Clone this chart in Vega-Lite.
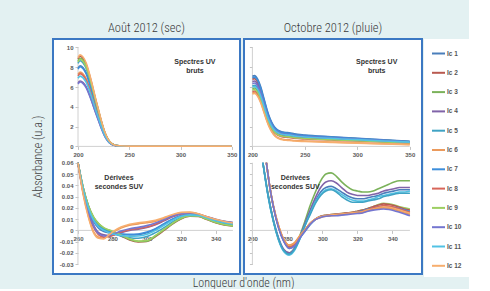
{
"$schema": "https://vega.github.io/schema/vega-lite/v6.json",
"background": "#e3f1f2",
"padding": {"left": 30, "top": 20, "right": 0, "bottom": 0},
"title": {"text": "Longueur d'onde (nm)", "orient": "bottom", "anchor": "middle", "offset": 1, "dx": -6, "fontSize": 12},
"datasets": {
"aTop": [
{"s":"Ic 1","x":200,"y":7.91},{"s":"Ic 1","x":202,"y":8.15},{"s":"Ic 1","x":205,"y":7.95},{"s":"Ic 1","x":208,"y":7.42},{"s":"Ic 1","x":211,"y":6.52},{"s":"Ic 1","x":214,"y":5.46},{"s":"Ic 1","x":217,"y":4.32},{"s":"Ic 1","x":220,"y":3.26},{"s":"Ic 1","x":223,"y":2.2},{"s":"Ic 1","x":226,"y":1.3},{"s":"Ic 1","x":229,"y":0.69},{"s":"Ic 1","x":232,"y":0.33},{"s":"Ic 1","x":235,"y":0.15},{"s":"Ic 1","x":240,"y":0.05},{"s":"Ic 1","x":250,"y":0.03},{"s":"Ic 1","x":350,"y":0.03},
{"s":"Ic 2","x":200,"y":8.83},{"s":"Ic 2","x":202,"y":9.1},{"s":"Ic 2","x":205,"y":8.87},{"s":"Ic 2","x":208,"y":8.28},{"s":"Ic 2","x":211,"y":7.28},{"s":"Ic 2","x":214,"y":6.1},{"s":"Ic 2","x":217,"y":4.82},{"s":"Ic 2","x":220,"y":3.64},{"s":"Ic 2","x":223,"y":2.46},{"s":"Ic 2","x":226,"y":1.46},{"s":"Ic 2","x":229,"y":0.77},{"s":"Ic 2","x":232,"y":0.36},{"s":"Ic 2","x":235,"y":0.16},{"s":"Ic 2","x":240,"y":0.05},{"s":"Ic 2","x":250,"y":0.03},{"s":"Ic 2","x":350,"y":0.03},
{"s":"Ic 3","x":200,"y":8.63},{"s":"Ic 3","x":202,"y":8.9},{"s":"Ic 3","x":205,"y":8.68},{"s":"Ic 3","x":208,"y":8.1},{"s":"Ic 3","x":211,"y":7.12},{"s":"Ic 3","x":214,"y":5.96},{"s":"Ic 3","x":217,"y":4.72},{"s":"Ic 3","x":220,"y":3.56},{"s":"Ic 3","x":223,"y":2.4},{"s":"Ic 3","x":226,"y":1.42},{"s":"Ic 3","x":229,"y":0.76},{"s":"Ic 3","x":232,"y":0.36},{"s":"Ic 3","x":235,"y":0.16},{"s":"Ic 3","x":240,"y":0.05},{"s":"Ic 3","x":250,"y":0.03},{"s":"Ic 3","x":350,"y":0.03},
{"s":"Ic 4","x":200,"y":6.4},{"s":"Ic 4","x":202,"y":6.6},{"s":"Ic 4","x":205,"y":6.44},{"s":"Ic 4","x":208,"y":6.01},{"s":"Ic 4","x":211,"y":5.28},{"s":"Ic 4","x":214,"y":4.42},{"s":"Ic 4","x":217,"y":3.5},{"s":"Ic 4","x":220,"y":2.64},{"s":"Ic 4","x":223,"y":1.78},{"s":"Ic 4","x":226,"y":1.06},{"s":"Ic 4","x":229,"y":0.56},{"s":"Ic 4","x":232,"y":0.26},{"s":"Ic 4","x":235,"y":0.12},{"s":"Ic 4","x":240,"y":0.04},{"s":"Ic 4","x":250,"y":0.03},{"s":"Ic 4","x":350,"y":0.03},
{"s":"Ic 5","x":200,"y":8.39},{"s":"Ic 5","x":202,"y":8.65},{"s":"Ic 5","x":205,"y":8.43},{"s":"Ic 5","x":208,"y":7.87},{"s":"Ic 5","x":211,"y":6.92},{"s":"Ic 5","x":214,"y":5.8},{"s":"Ic 5","x":217,"y":4.58},{"s":"Ic 5","x":220,"y":3.46},{"s":"Ic 5","x":223,"y":2.34},{"s":"Ic 5","x":226,"y":1.38},{"s":"Ic 5","x":229,"y":0.74},{"s":"Ic 5","x":232,"y":0.35},{"s":"Ic 5","x":235,"y":0.16},{"s":"Ic 5","x":240,"y":0.05},{"s":"Ic 5","x":250,"y":0.03},{"s":"Ic 5","x":350,"y":0.03},
{"s":"Ic 6","x":200,"y":7.28},{"s":"Ic 6","x":202,"y":7.5},{"s":"Ic 6","x":205,"y":7.31},{"s":"Ic 6","x":208,"y":6.83},{"s":"Ic 6","x":211,"y":6.0},{"s":"Ic 6","x":214,"y":5.03},{"s":"Ic 6","x":217,"y":3.98},{"s":"Ic 6","x":220,"y":3.0},{"s":"Ic 6","x":223,"y":2.03},{"s":"Ic 6","x":226,"y":1.2},{"s":"Ic 6","x":229,"y":0.64},{"s":"Ic 6","x":232,"y":0.3},{"s":"Ic 6","x":235,"y":0.14},{"s":"Ic 6","x":240,"y":0.05},{"s":"Ic 6","x":250,"y":0.03},{"s":"Ic 6","x":350,"y":0.03},
{"s":"Ic 7","x":200,"y":7.81},{"s":"Ic 7","x":202,"y":8.05},{"s":"Ic 7","x":205,"y":7.85},{"s":"Ic 7","x":208,"y":7.33},{"s":"Ic 7","x":211,"y":6.44},{"s":"Ic 7","x":214,"y":5.39},{"s":"Ic 7","x":217,"y":4.27},{"s":"Ic 7","x":220,"y":3.22},{"s":"Ic 7","x":223,"y":2.17},{"s":"Ic 7","x":226,"y":1.29},{"s":"Ic 7","x":229,"y":0.68},{"s":"Ic 7","x":232,"y":0.32},{"s":"Ic 7","x":235,"y":0.14},{"s":"Ic 7","x":240,"y":0.05},{"s":"Ic 7","x":250,"y":0.03},{"s":"Ic 7","x":350,"y":0.03},
{"s":"Ic 8","x":200,"y":7.13},{"s":"Ic 8","x":202,"y":7.35},{"s":"Ic 8","x":205,"y":7.17},{"s":"Ic 8","x":208,"y":6.69},{"s":"Ic 8","x":211,"y":5.88},{"s":"Ic 8","x":214,"y":4.92},{"s":"Ic 8","x":217,"y":3.9},{"s":"Ic 8","x":220,"y":2.94},{"s":"Ic 8","x":223,"y":1.98},{"s":"Ic 8","x":226,"y":1.18},{"s":"Ic 8","x":229,"y":0.62},{"s":"Ic 8","x":232,"y":0.29},{"s":"Ic 8","x":235,"y":0.13},{"s":"Ic 8","x":240,"y":0.04},{"s":"Ic 8","x":250,"y":0.03},{"s":"Ic 8","x":350,"y":0.03},
{"s":"Ic 9","x":200,"y":8.54},{"s":"Ic 9","x":202,"y":8.8},{"s":"Ic 9","x":205,"y":8.58},{"s":"Ic 9","x":208,"y":8.01},{"s":"Ic 9","x":211,"y":7.04},{"s":"Ic 9","x":214,"y":5.9},{"s":"Ic 9","x":217,"y":4.66},{"s":"Ic 9","x":220,"y":3.52},{"s":"Ic 9","x":223,"y":2.38},{"s":"Ic 9","x":226,"y":1.41},{"s":"Ic 9","x":229,"y":0.75},{"s":"Ic 9","x":232,"y":0.35},{"s":"Ic 9","x":235,"y":0.16},{"s":"Ic 9","x":240,"y":0.05},{"s":"Ic 9","x":250,"y":0.03},{"s":"Ic 9","x":350,"y":0.03},
{"s":"Ic 10","x":200,"y":6.31},{"s":"Ic 10","x":202,"y":6.5},{"s":"Ic 10","x":205,"y":6.34},{"s":"Ic 10","x":208,"y":5.92},{"s":"Ic 10","x":211,"y":5.2},{"s":"Ic 10","x":214,"y":4.36},{"s":"Ic 10","x":217,"y":3.45},{"s":"Ic 10","x":220,"y":2.6},{"s":"Ic 10","x":223,"y":1.76},{"s":"Ic 10","x":226,"y":1.04},{"s":"Ic 10","x":229,"y":0.55},{"s":"Ic 10","x":232,"y":0.26},{"s":"Ic 10","x":235,"y":0.12},{"s":"Ic 10","x":240,"y":0.04},{"s":"Ic 10","x":250,"y":0.03},{"s":"Ic 10","x":350,"y":0.03},
{"s":"Ic 11","x":200,"y":6.89},{"s":"Ic 11","x":202,"y":7.1},{"s":"Ic 11","x":205,"y":6.92},{"s":"Ic 11","x":208,"y":6.46},{"s":"Ic 11","x":211,"y":5.68},{"s":"Ic 11","x":214,"y":4.76},{"s":"Ic 11","x":217,"y":3.76},{"s":"Ic 11","x":220,"y":2.84},{"s":"Ic 11","x":223,"y":1.92},{"s":"Ic 11","x":226,"y":1.14},{"s":"Ic 11","x":229,"y":0.6},{"s":"Ic 11","x":232,"y":0.28},{"s":"Ic 11","x":235,"y":0.13},{"s":"Ic 11","x":240,"y":0.04},{"s":"Ic 11","x":250,"y":0.03},{"s":"Ic 11","x":350,"y":0.03},
{"s":"Ic 12","x":200,"y":8.97},{"s":"Ic 12","x":202,"y":9.25},{"s":"Ic 12","x":205,"y":9.02},{"s":"Ic 12","x":208,"y":8.42},{"s":"Ic 12","x":211,"y":7.4},{"s":"Ic 12","x":214,"y":6.2},{"s":"Ic 12","x":217,"y":4.9},{"s":"Ic 12","x":220,"y":3.7},{"s":"Ic 12","x":223,"y":2.5},{"s":"Ic 12","x":226,"y":1.48},{"s":"Ic 12","x":229,"y":0.79},{"s":"Ic 12","x":232,"y":0.37},{"s":"Ic 12","x":235,"y":0.17},{"s":"Ic 12","x":240,"y":0.06},{"s":"Ic 12","x":250,"y":0.03},{"s":"Ic 12","x":350,"y":0.03}
],
"oTop": [
{"s":"Ic 1","x":200,"y":7.09},{"s":"Ic 1","x":202,"y":7.15},{"s":"Ic 1","x":205,"y":6.8},{"s":"Ic 1","x":208,"y":6.0},{"s":"Ic 1","x":211,"y":4.84},{"s":"Ic 1","x":214,"y":3.69},{"s":"Ic 1","x":217,"y":2.76},{"s":"Ic 1","x":220,"y":2.13},{"s":"Ic 1","x":223,"y":1.76},{"s":"Ic 1","x":226,"y":1.55},{"s":"Ic 1","x":229,"y":1.45},{"s":"Ic 1","x":232,"y":1.4},{"s":"Ic 1","x":235,"y":1.38},{"s":"Ic 1","x":240,"y":1.27},{"s":"Ic 1","x":250,"y":1.15},{"s":"Ic 1","x":275,"y":0.98},{"s":"Ic 1","x":300,"y":0.83},{"s":"Ic 1","x":325,"y":0.67},{"s":"Ic 1","x":350,"y":0.52},
{"s":"Ic 2","x":200,"y":6.79},{"s":"Ic 2","x":202,"y":6.85},{"s":"Ic 2","x":205,"y":6.5},{"s":"Ic 2","x":208,"y":5.68},{"s":"Ic 2","x":211,"y":4.52},{"s":"Ic 2","x":214,"y":3.35},{"s":"Ic 2","x":217,"y":2.42},{"s":"Ic 2","x":220,"y":1.78},{"s":"Ic 2","x":223,"y":1.4},{"s":"Ic 2","x":226,"y":1.19},{"s":"Ic 2","x":229,"y":1.09},{"s":"Ic 2","x":232,"y":1.04},{"s":"Ic 2","x":235,"y":1.02},{"s":"Ic 2","x":240,"y":0.94},{"s":"Ic 2","x":250,"y":0.85},{"s":"Ic 2","x":275,"y":0.72},{"s":"Ic 2","x":300,"y":0.61},{"s":"Ic 2","x":325,"y":0.49},{"s":"Ic 2","x":350,"y":0.38},
{"s":"Ic 3","x":200,"y":5.85},{"s":"Ic 3","x":202,"y":5.9},{"s":"Ic 3","x":205,"y":5.62},{"s":"Ic 3","x":208,"y":4.97},{"s":"Ic 3","x":211,"y":4.04},{"s":"Ic 3","x":214,"y":3.12},{"s":"Ic 3","x":217,"y":2.37},{"s":"Ic 3","x":220,"y":1.86},{"s":"Ic 3","x":223,"y":1.56},{"s":"Ic 3","x":226,"y":1.4},{"s":"Ic 3","x":229,"y":1.32},{"s":"Ic 3","x":232,"y":1.28},{"s":"Ic 3","x":235,"y":1.26},{"s":"Ic 3","x":240,"y":1.16},{"s":"Ic 3","x":250,"y":1.05},{"s":"Ic 3","x":275,"y":0.89},{"s":"Ic 3","x":300,"y":0.76},{"s":"Ic 3","x":325,"y":0.61},{"s":"Ic 3","x":350,"y":0.47},
{"s":"Ic 4","x":200,"y":6.55},{"s":"Ic 4","x":202,"y":6.6},{"s":"Ic 4","x":205,"y":6.28},{"s":"Ic 4","x":208,"y":5.53},{"s":"Ic 4","x":211,"y":4.46},{"s":"Ic 4","x":214,"y":3.4},{"s":"Ic 4","x":217,"y":2.54},{"s":"Ic 4","x":220,"y":1.95},{"s":"Ic 4","x":223,"y":1.61},{"s":"Ic 4","x":226,"y":1.42},{"s":"Ic 4","x":229,"y":1.32},{"s":"Ic 4","x":232,"y":1.28},{"s":"Ic 4","x":235,"y":1.26},{"s":"Ic 4","x":240,"y":1.16},{"s":"Ic 4","x":250,"y":1.05},{"s":"Ic 4","x":275,"y":0.89},{"s":"Ic 4","x":300,"y":0.76},{"s":"Ic 4","x":325,"y":0.61},{"s":"Ic 4","x":350,"y":0.47},
{"s":"Ic 5","x":200,"y":6.13},{"s":"Ic 5","x":202,"y":6.18},{"s":"Ic 5","x":205,"y":5.88},{"s":"Ic 5","x":208,"y":5.18},{"s":"Ic 5","x":211,"y":4.18},{"s":"Ic 5","x":214,"y":3.18},{"s":"Ic 5","x":217,"y":2.38},{"s":"Ic 5","x":220,"y":1.83},{"s":"Ic 5","x":223,"y":1.51},{"s":"Ic 5","x":226,"y":1.33},{"s":"Ic 5","x":229,"y":1.24},{"s":"Ic 5","x":232,"y":1.2},{"s":"Ic 5","x":235,"y":1.18},{"s":"Ic 5","x":240,"y":1.08},{"s":"Ic 5","x":250,"y":0.98},{"s":"Ic 5","x":275,"y":0.83},{"s":"Ic 5","x":300,"y":0.7},{"s":"Ic 5","x":325,"y":0.56},{"s":"Ic 5","x":350,"y":0.43},
{"s":"Ic 6","x":200,"y":5.4},{"s":"Ic 6","x":202,"y":5.45},{"s":"Ic 6","x":205,"y":5.16},{"s":"Ic 6","x":208,"y":4.49},{"s":"Ic 6","x":211,"y":3.53},{"s":"Ic 6","x":214,"y":2.58},{"s":"Ic 6","x":217,"y":1.81},{"s":"Ic 6","x":220,"y":1.28},{"s":"Ic 6","x":223,"y":0.97},{"s":"Ic 6","x":226,"y":0.8},{"s":"Ic 6","x":229,"y":0.72},{"s":"Ic 6","x":232,"y":0.68},{"s":"Ic 6","x":235,"y":0.66},{"s":"Ic 6","x":240,"y":0.6},{"s":"Ic 6","x":250,"y":0.55},{"s":"Ic 6","x":275,"y":0.45},{"s":"Ic 6","x":300,"y":0.36},{"s":"Ic 6","x":325,"y":0.27},{"s":"Ic 6","x":350,"y":0.2},
{"s":"Ic 7","x":200,"y":6.94},{"s":"Ic 7","x":202,"y":7.0},{"s":"Ic 7","x":205,"y":6.66},{"s":"Ic 7","x":208,"y":5.86},{"s":"Ic 7","x":211,"y":4.73},{"s":"Ic 7","x":214,"y":3.59},{"s":"Ic 7","x":217,"y":2.68},{"s":"Ic 7","x":220,"y":2.06},{"s":"Ic 7","x":223,"y":1.69},{"s":"Ic 7","x":226,"y":1.49},{"s":"Ic 7","x":229,"y":1.39},{"s":"Ic 7","x":232,"y":1.34},{"s":"Ic 7","x":235,"y":1.32},{"s":"Ic 7","x":240,"y":1.21},{"s":"Ic 7","x":250,"y":1.1},{"s":"Ic 7","x":275,"y":0.94},{"s":"Ic 7","x":300,"y":0.79},{"s":"Ic 7","x":325,"y":0.64},{"s":"Ic 7","x":350,"y":0.5},
{"s":"Ic 8","x":200,"y":5.55},{"s":"Ic 8","x":202,"y":5.6},{"s":"Ic 8","x":205,"y":5.32},{"s":"Ic 8","x":208,"y":4.66},{"s":"Ic 8","x":211,"y":3.72},{"s":"Ic 8","x":214,"y":2.78},{"s":"Ic 8","x":217,"y":2.03},{"s":"Ic 8","x":220,"y":1.51},{"s":"Ic 8","x":223,"y":1.21},{"s":"Ic 8","x":226,"y":1.04},{"s":"Ic 8","x":229,"y":0.96},{"s":"Ic 8","x":232,"y":0.92},{"s":"Ic 8","x":235,"y":0.9},{"s":"Ic 8","x":240,"y":0.83},{"s":"Ic 8","x":250,"y":0.75},{"s":"Ic 8","x":275,"y":0.64},{"s":"Ic 8","x":300,"y":0.54},{"s":"Ic 8","x":325,"y":0.44},{"s":"Ic 8","x":350,"y":0.34},
{"s":"Ic 9","x":200,"y":5.7},{"s":"Ic 9","x":202,"y":5.75},{"s":"Ic 9","x":205,"y":5.46},{"s":"Ic 9","x":208,"y":4.79},{"s":"Ic 9","x":211,"y":3.83},{"s":"Ic 9","x":214,"y":2.88},{"s":"Ic 9","x":217,"y":2.11},{"s":"Ic 9","x":220,"y":1.58},{"s":"Ic 9","x":223,"y":1.27},{"s":"Ic 9","x":226,"y":1.1},{"s":"Ic 9","x":229,"y":1.02},{"s":"Ic 9","x":232,"y":0.98},{"s":"Ic 9","x":235,"y":0.96},{"s":"Ic 9","x":240,"y":0.88},{"s":"Ic 9","x":250,"y":0.8},{"s":"Ic 9","x":275,"y":0.68},{"s":"Ic 9","x":300,"y":0.58},{"s":"Ic 9","x":325,"y":0.46},{"s":"Ic 9","x":350,"y":0.36},
{"s":"Ic 10","x":200,"y":6.35},{"s":"Ic 10","x":202,"y":6.4},{"s":"Ic 10","x":205,"y":6.09},{"s":"Ic 10","x":208,"y":5.36},{"s":"Ic 10","x":211,"y":4.32},{"s":"Ic 10","x":214,"y":3.28},{"s":"Ic 10","x":217,"y":2.45},{"s":"Ic 10","x":220,"y":1.88},{"s":"Ic 10","x":223,"y":1.54},{"s":"Ic 10","x":226,"y":1.36},{"s":"Ic 10","x":229,"y":1.26},{"s":"Ic 10","x":232,"y":1.22},{"s":"Ic 10","x":235,"y":1.2},{"s":"Ic 10","x":240,"y":1.1},{"s":"Ic 10","x":250,"y":1.0},{"s":"Ic 10","x":275,"y":0.85},{"s":"Ic 10","x":300,"y":0.72},{"s":"Ic 10","x":325,"y":0.58},{"s":"Ic 10","x":350,"y":0.45},
{"s":"Ic 11","x":200,"y":6.0},{"s":"Ic 11","x":202,"y":6.05},{"s":"Ic 11","x":205,"y":5.76},{"s":"Ic 11","x":208,"y":5.07},{"s":"Ic 11","x":211,"y":4.09},{"s":"Ic 11","x":214,"y":3.1},{"s":"Ic 11","x":217,"y":2.32},{"s":"Ic 11","x":220,"y":1.78},{"s":"Ic 11","x":223,"y":1.46},{"s":"Ic 11","x":226,"y":1.29},{"s":"Ic 11","x":229,"y":1.2},{"s":"Ic 11","x":232,"y":1.16},{"s":"Ic 11","x":235,"y":1.14},{"s":"Ic 11","x":240,"y":1.05},{"s":"Ic 11","x":250,"y":0.95},{"s":"Ic 11","x":275,"y":0.81},{"s":"Ic 11","x":300,"y":0.68},{"s":"Ic 11","x":325,"y":0.55},{"s":"Ic 11","x":350,"y":0.43},
{"s":"Ic 12","x":200,"y":5.3},{"s":"Ic 12","x":202,"y":5.35},{"s":"Ic 12","x":205,"y":5.07},{"s":"Ic 12","x":208,"y":4.4},{"s":"Ic 12","x":211,"y":3.45},{"s":"Ic 12","x":214,"y":2.5},{"s":"Ic 12","x":217,"y":1.74},{"s":"Ic 12","x":220,"y":1.22},{"s":"Ic 12","x":223,"y":0.91},{"s":"Ic 12","x":226,"y":0.74},{"s":"Ic 12","x":229,"y":0.66},{"s":"Ic 12","x":232,"y":0.62},{"s":"Ic 12","x":235,"y":0.6},{"s":"Ic 12","x":240,"y":0.55},{"s":"Ic 12","x":250,"y":0.5},{"s":"Ic 12","x":275,"y":0.41},{"s":"Ic 12","x":300,"y":0.33},{"s":"Ic 12","x":325,"y":0.25},{"s":"Ic 12","x":350,"y":0.18}
],
"aBot": [
{"s":"Ic 1","x":260,"y":0.06},{"s":"Ic 1","x":263,"y":0.036},{"s":"Ic 1","x":266,"y":0.019},{"s":"Ic 1","x":269,"y":0.008},{"s":"Ic 1","x":272,"y":0.002},{"s":"Ic 1","x":275,"y":-0.001},{"s":"Ic 1","x":278,"y":-0.002},{"s":"Ic 1","x":281,"y":-0.003},{"s":"Ic 1","x":285,"y":-0.0035},{"s":"Ic 1","x":290,"y":-0.004},{"s":"Ic 1","x":295,"y":-0.0038},{"s":"Ic 1","x":300,"y":-0.0022},{"s":"Ic 1","x":305,"y":0.001},{"s":"Ic 1","x":310,"y":0.0055},{"s":"Ic 1","x":315,"y":0.0098},{"s":"Ic 1","x":320,"y":0.013},{"s":"Ic 1","x":325,"y":0.014},{"s":"Ic 1","x":330,"y":0.0135},{"s":"Ic 1","x":335,"y":0.0112},{"s":"Ic 1","x":340,"y":0.0088},{"s":"Ic 1","x":345,"y":0.007},{"s":"Ic 1","x":350,"y":0.0058},
{"s":"Ic 2","x":260,"y":0.06},{"s":"Ic 2","x":263,"y":0.038},{"s":"Ic 2","x":266,"y":0.022},{"s":"Ic 2","x":269,"y":0.011},{"s":"Ic 2","x":272,"y":0.005},{"s":"Ic 2","x":275,"y":0.0015},{"s":"Ic 2","x":278,"y":-0.0005},{"s":"Ic 2","x":281,"y":-0.0025},{"s":"Ic 2","x":285,"y":-0.005},{"s":"Ic 2","x":290,"y":-0.0085},{"s":"Ic 2","x":295,"y":-0.0102},{"s":"Ic 2","x":300,"y":-0.0098},{"s":"Ic 2","x":305,"y":-0.0055},{"s":"Ic 2","x":310,"y":0.0},{"s":"Ic 2","x":315,"y":0.0058},{"s":"Ic 2","x":320,"y":0.0103},{"s":"Ic 2","x":325,"y":0.0126},{"s":"Ic 2","x":330,"y":0.0123},{"s":"Ic 2","x":335,"y":0.0096},{"s":"Ic 2","x":340,"y":0.0068},{"s":"Ic 2","x":345,"y":0.0049},{"s":"Ic 2","x":350,"y":0.0039},
{"s":"Ic 3","x":260,"y":0.06},{"s":"Ic 3","x":263,"y":0.038},{"s":"Ic 3","x":266,"y":0.022},{"s":"Ic 3","x":269,"y":0.012},{"s":"Ic 3","x":272,"y":0.006},{"s":"Ic 3","x":275,"y":0.002},{"s":"Ic 3","x":278,"y":0.0},{"s":"Ic 3","x":281,"y":-0.002},{"s":"Ic 3","x":285,"y":-0.0045},{"s":"Ic 3","x":290,"y":-0.008},{"s":"Ic 3","x":295,"y":-0.0098},{"s":"Ic 3","x":300,"y":-0.0095},{"s":"Ic 3","x":305,"y":-0.005},{"s":"Ic 3","x":310,"y":0.0005},{"s":"Ic 3","x":315,"y":0.006},{"s":"Ic 3","x":320,"y":0.0105},{"s":"Ic 3","x":325,"y":0.0128},{"s":"Ic 3","x":330,"y":0.0125},{"s":"Ic 3","x":335,"y":0.0098},{"s":"Ic 3","x":340,"y":0.007},{"s":"Ic 3","x":345,"y":0.005},{"s":"Ic 3","x":350,"y":0.004},
{"s":"Ic 4","x":260,"y":0.06},{"s":"Ic 4","x":263,"y":0.035},{"s":"Ic 4","x":266,"y":0.017},{"s":"Ic 4","x":269,"y":0.005},{"s":"Ic 4","x":272,"y":-0.002},{"s":"Ic 4","x":275,"y":-0.004},{"s":"Ic 4","x":278,"y":-0.0045},{"s":"Ic 4","x":281,"y":-0.004},{"s":"Ic 4","x":285,"y":-0.002},{"s":"Ic 4","x":290,"y":0.0},{"s":"Ic 4","x":295,"y":0.001},{"s":"Ic 4","x":300,"y":0.0025},{"s":"Ic 4","x":305,"y":0.005},{"s":"Ic 4","x":310,"y":0.0085},{"s":"Ic 4","x":315,"y":0.012},{"s":"Ic 4","x":320,"y":0.0145},{"s":"Ic 4","x":325,"y":0.015},{"s":"Ic 4","x":330,"y":0.014},{"s":"Ic 4","x":335,"y":0.0118},{"s":"Ic 4","x":340,"y":0.0095},{"s":"Ic 4","x":345,"y":0.0078},{"s":"Ic 4","x":350,"y":0.0068},
{"s":"Ic 5","x":260,"y":0.06},{"s":"Ic 5","x":263,"y":0.037},{"s":"Ic 5","x":266,"y":0.021},{"s":"Ic 5","x":269,"y":0.01},{"s":"Ic 5","x":272,"y":0.004},{"s":"Ic 5","x":275,"y":0.001},{"s":"Ic 5","x":278,"y":-0.001},{"s":"Ic 5","x":281,"y":-0.003},{"s":"Ic 5","x":285,"y":-0.005},{"s":"Ic 5","x":290,"y":-0.0065},{"s":"Ic 5","x":295,"y":-0.007},{"s":"Ic 5","x":300,"y":-0.0055},{"s":"Ic 5","x":305,"y":-0.002},{"s":"Ic 5","x":310,"y":0.0025},{"s":"Ic 5","x":315,"y":0.0075},{"s":"Ic 5","x":320,"y":0.0115},{"s":"Ic 5","x":325,"y":0.0132},{"s":"Ic 5","x":330,"y":0.013},{"s":"Ic 5","x":335,"y":0.0108},{"s":"Ic 5","x":340,"y":0.0082},{"s":"Ic 5","x":345,"y":0.0062},{"s":"Ic 5","x":350,"y":0.005},
{"s":"Ic 6","x":260,"y":0.06},{"s":"Ic 6","x":263,"y":0.033},{"s":"Ic 6","x":266,"y":0.013},{"s":"Ic 6","x":269,"y":-0.001},{"s":"Ic 6","x":272,"y":-0.006},{"s":"Ic 6","x":275,"y":-0.007},{"s":"Ic 6","x":278,"y":-0.004},{"s":"Ic 6","x":281,"y":-0.001},{"s":"Ic 6","x":285,"y":0.002},{"s":"Ic 6","x":290,"y":0.0045},{"s":"Ic 6","x":295,"y":0.0058},{"s":"Ic 6","x":300,"y":0.0068},{"s":"Ic 6","x":305,"y":0.0082},{"s":"Ic 6","x":310,"y":0.0108},{"s":"Ic 6","x":315,"y":0.0135},{"s":"Ic 6","x":320,"y":0.0155},{"s":"Ic 6","x":325,"y":0.0158},{"s":"Ic 6","x":330,"y":0.0145},{"s":"Ic 6","x":335,"y":0.0118},{"s":"Ic 6","x":340,"y":0.0095},{"s":"Ic 6","x":345,"y":0.0075},{"s":"Ic 6","x":350,"y":0.006},
{"s":"Ic 7","x":260,"y":0.06},{"s":"Ic 7","x":263,"y":0.036},{"s":"Ic 7","x":266,"y":0.02},{"s":"Ic 7","x":269,"y":0.009},{"s":"Ic 7","x":272,"y":0.003},{"s":"Ic 7","x":275,"y":0.0},{"s":"Ic 7","x":278,"y":-0.0015},{"s":"Ic 7","x":281,"y":-0.0025},{"s":"Ic 7","x":285,"y":-0.0032},{"s":"Ic 7","x":290,"y":-0.0035},{"s":"Ic 7","x":295,"y":-0.0032},{"s":"Ic 7","x":300,"y":-0.0015},{"s":"Ic 7","x":305,"y":0.0015},{"s":"Ic 7","x":310,"y":0.006},{"s":"Ic 7","x":315,"y":0.0102},{"s":"Ic 7","x":320,"y":0.0132},{"s":"Ic 7","x":325,"y":0.0142},{"s":"Ic 7","x":330,"y":0.0136},{"s":"Ic 7","x":335,"y":0.0113},{"s":"Ic 7","x":340,"y":0.009},{"s":"Ic 7","x":345,"y":0.0072},{"s":"Ic 7","x":350,"y":0.006},
{"s":"Ic 8","x":260,"y":0.06},{"s":"Ic 8","x":263,"y":0.034},{"s":"Ic 8","x":266,"y":0.015},{"s":"Ic 8","x":269,"y":0.003},{"s":"Ic 8","x":272,"y":-0.004},{"s":"Ic 8","x":275,"y":-0.006},{"s":"Ic 8","x":278,"y":-0.0055},{"s":"Ic 8","x":281,"y":-0.004},{"s":"Ic 8","x":285,"y":-0.0015},{"s":"Ic 8","x":290,"y":0.0005},{"s":"Ic 8","x":295,"y":0.0018},{"s":"Ic 8","x":300,"y":0.003},{"s":"Ic 8","x":305,"y":0.0055},{"s":"Ic 8","x":310,"y":0.009},{"s":"Ic 8","x":315,"y":0.0125},{"s":"Ic 8","x":320,"y":0.0148},{"s":"Ic 8","x":325,"y":0.0152},{"s":"Ic 8","x":330,"y":0.0142},{"s":"Ic 8","x":335,"y":0.0118},{"s":"Ic 8","x":340,"y":0.0095},{"s":"Ic 8","x":345,"y":0.0078},{"s":"Ic 8","x":350,"y":0.0068},
{"s":"Ic 9","x":260,"y":0.06},{"s":"Ic 9","x":263,"y":0.038},{"s":"Ic 9","x":266,"y":0.022},{"s":"Ic 9","x":269,"y":0.012},{"s":"Ic 9","x":272,"y":0.006},{"s":"Ic 9","x":275,"y":0.0025},{"s":"Ic 9","x":278,"y":0.0005},{"s":"Ic 9","x":281,"y":-0.0015},{"s":"Ic 9","x":285,"y":-0.004},{"s":"Ic 9","x":290,"y":-0.0075},{"s":"Ic 9","x":295,"y":-0.0095},{"s":"Ic 9","x":300,"y":-0.009},{"s":"Ic 9","x":305,"y":-0.0045},{"s":"Ic 9","x":310,"y":0.001},{"s":"Ic 9","x":315,"y":0.0065},{"s":"Ic 9","x":320,"y":0.011},{"s":"Ic 9","x":325,"y":0.013},{"s":"Ic 9","x":330,"y":0.0127},{"s":"Ic 9","x":335,"y":0.01},{"s":"Ic 9","x":340,"y":0.0072},{"s":"Ic 9","x":345,"y":0.0052},{"s":"Ic 9","x":350,"y":0.0042},
{"s":"Ic 10","x":260,"y":0.06},{"s":"Ic 10","x":263,"y":0.034},{"s":"Ic 10","x":266,"y":0.016},{"s":"Ic 10","x":269,"y":0.004},{"s":"Ic 10","x":272,"y":-0.003},{"s":"Ic 10","x":275,"y":-0.005},{"s":"Ic 10","x":278,"y":-0.0045},{"s":"Ic 10","x":281,"y":-0.003},{"s":"Ic 10","x":285,"y":-0.0005},{"s":"Ic 10","x":290,"y":0.0015},{"s":"Ic 10","x":295,"y":0.0027},{"s":"Ic 10","x":300,"y":0.0042},{"s":"Ic 10","x":305,"y":0.0065},{"s":"Ic 10","x":310,"y":0.0095},{"s":"Ic 10","x":315,"y":0.0128},{"s":"Ic 10","x":320,"y":0.015},{"s":"Ic 10","x":325,"y":0.0155},{"s":"Ic 10","x":330,"y":0.0145},{"s":"Ic 10","x":335,"y":0.012},{"s":"Ic 10","x":340,"y":0.0098},{"s":"Ic 10","x":345,"y":0.008},{"s":"Ic 10","x":350,"y":0.007},
{"s":"Ic 11","x":260,"y":0.06},{"s":"Ic 11","x":263,"y":0.037},{"s":"Ic 11","x":266,"y":0.02},{"s":"Ic 11","x":269,"y":0.009},{"s":"Ic 11","x":272,"y":0.003},{"s":"Ic 11","x":275,"y":0.0},{"s":"Ic 11","x":278,"y":-0.002},{"s":"Ic 11","x":281,"y":-0.0035},{"s":"Ic 11","x":285,"y":-0.0045},{"s":"Ic 11","x":290,"y":-0.0052},{"s":"Ic 11","x":295,"y":-0.005},{"s":"Ic 11","x":300,"y":-0.0035},{"s":"Ic 11","x":305,"y":0.0},{"s":"Ic 11","x":310,"y":0.0045},{"s":"Ic 11","x":315,"y":0.009},{"s":"Ic 11","x":320,"y":0.0125},{"s":"Ic 11","x":325,"y":0.0138},{"s":"Ic 11","x":330,"y":0.0133},{"s":"Ic 11","x":335,"y":0.011},{"s":"Ic 11","x":340,"y":0.0085},{"s":"Ic 11","x":345,"y":0.0068},{"s":"Ic 11","x":350,"y":0.0056},
{"s":"Ic 12","x":260,"y":0.06},{"s":"Ic 12","x":263,"y":0.032},{"s":"Ic 12","x":266,"y":0.012},{"s":"Ic 12","x":269,"y":-0.002},{"s":"Ic 12","x":272,"y":-0.007},{"s":"Ic 12","x":275,"y":-0.0075},{"s":"Ic 12","x":278,"y":-0.004},{"s":"Ic 12","x":281,"y":-0.0005},{"s":"Ic 12","x":285,"y":0.003},{"s":"Ic 12","x":290,"y":0.0055},{"s":"Ic 12","x":295,"y":0.0068},{"s":"Ic 12","x":300,"y":0.0077},{"s":"Ic 12","x":305,"y":0.009},{"s":"Ic 12","x":310,"y":0.0115},{"s":"Ic 12","x":315,"y":0.014},{"s":"Ic 12","x":320,"y":0.016},{"s":"Ic 12","x":325,"y":0.0162},{"s":"Ic 12","x":330,"y":0.0148},{"s":"Ic 12","x":335,"y":0.012},{"s":"Ic 12","x":340,"y":0.0098},{"s":"Ic 12","x":345,"y":0.0078},{"s":"Ic 12","x":350,"y":0.0065}
],
"oBot": [
{"s":"Ic 3","x":266,"y":0.06},{"s":"Ic 3","x":269,"y":0.032},{"s":"Ic 3","x":272,"y":0.008},{"s":"Ic 3","x":275,"y":-0.008},{"s":"Ic 3","x":278,"y":-0.018},{"s":"Ic 3","x":281,"y":-0.02},{"s":"Ic 3","x":284,"y":-0.016},{"s":"Ic 3","x":287,"y":-0.005},{"s":"Ic 3","x":290,"y":0.008},{"s":"Ic 3","x":293,"y":0.022},{"s":"Ic 3","x":296,"y":0.034},{"s":"Ic 3","x":299,"y":0.044},{"s":"Ic 3","x":302,"y":0.05},{"s":"Ic 3","x":305,"y":0.051},{"s":"Ic 3","x":308,"y":0.048},{"s":"Ic 3","x":311,"y":0.043},{"s":"Ic 3","x":314,"y":0.039},{"s":"Ic 3","x":317,"y":0.036},{"s":"Ic 3","x":320,"y":0.035},{"s":"Ic 3","x":323,"y":0.034},{"s":"Ic 3","x":326,"y":0.034},{"s":"Ic 3","x":329,"y":0.035},{"s":"Ic 3","x":332,"y":0.037},{"s":"Ic 3","x":335,"y":0.039},{"s":"Ic 3","x":338,"y":0.041},{"s":"Ic 3","x":341,"y":0.043},{"s":"Ic 3","x":344,"y":0.044},{"s":"Ic 3","x":347,"y":0.044},{"s":"Ic 3","x":350,"y":0.044},
{"s":"Ic 4","x":266,"y":0.06},{"s":"Ic 4","x":269,"y":0.031},{"s":"Ic 4","x":272,"y":0.009},{"s":"Ic 4","x":275,"y":-0.007},{"s":"Ic 4","x":278,"y":-0.017},{"s":"Ic 4","x":281,"y":-0.02},{"s":"Ic 4","x":284,"y":-0.016},{"s":"Ic 4","x":287,"y":-0.006},{"s":"Ic 4","x":290,"y":0.006},{"s":"Ic 4","x":293,"y":0.018},{"s":"Ic 4","x":296,"y":0.029},{"s":"Ic 4","x":299,"y":0.038},{"s":"Ic 4","x":302,"y":0.043},{"s":"Ic 4","x":305,"y":0.044},{"s":"Ic 4","x":308,"y":0.042},{"s":"Ic 4","x":311,"y":0.038},{"s":"Ic 4","x":314,"y":0.034},{"s":"Ic 4","x":317,"y":0.032},{"s":"Ic 4","x":320,"y":0.031},{"s":"Ic 4","x":323,"y":0.031},{"s":"Ic 4","x":326,"y":0.031},{"s":"Ic 4","x":329,"y":0.032},{"s":"Ic 4","x":332,"y":0.033},{"s":"Ic 4","x":335,"y":0.035},{"s":"Ic 4","x":338,"y":0.036},{"s":"Ic 4","x":341,"y":0.037},{"s":"Ic 4","x":344,"y":0.038},{"s":"Ic 4","x":347,"y":0.038},{"s":"Ic 4","x":350,"y":0.038},
{"s":"Ic 1","x":266,"y":0.06},{"s":"Ic 1","x":269,"y":0.031},{"s":"Ic 1","x":272,"y":0.009},{"s":"Ic 1","x":275,"y":-0.008},{"s":"Ic 1","x":278,"y":-0.018},{"s":"Ic 1","x":281,"y":-0.021},{"s":"Ic 1","x":284,"y":-0.017},{"s":"Ic 1","x":287,"y":-0.007},{"s":"Ic 1","x":290,"y":0.005},{"s":"Ic 1","x":293,"y":0.016},{"s":"Ic 1","x":296,"y":0.026},{"s":"Ic 1","x":299,"y":0.034},{"s":"Ic 1","x":302,"y":0.038},{"s":"Ic 1","x":305,"y":0.039},{"s":"Ic 1","x":308,"y":0.037},{"s":"Ic 1","x":311,"y":0.034},{"s":"Ic 1","x":314,"y":0.031},{"s":"Ic 1","x":317,"y":0.029},{"s":"Ic 1","x":320,"y":0.028},{"s":"Ic 1","x":323,"y":0.028},{"s":"Ic 1","x":326,"y":0.029},{"s":"Ic 1","x":329,"y":0.03},{"s":"Ic 1","x":332,"y":0.031},{"s":"Ic 1","x":335,"y":0.033},{"s":"Ic 1","x":338,"y":0.034},{"s":"Ic 1","x":341,"y":0.035},{"s":"Ic 1","x":344,"y":0.036},{"s":"Ic 1","x":347,"y":0.036},{"s":"Ic 1","x":350,"y":0.036},
{"s":"Ic 11","x":266,"y":0.06},{"s":"Ic 11","x":269,"y":0.03},{"s":"Ic 11","x":272,"y":0.008},{"s":"Ic 11","x":275,"y":-0.009},{"s":"Ic 11","x":278,"y":-0.019},{"s":"Ic 11","x":281,"y":-0.022},{"s":"Ic 11","x":284,"y":-0.018},{"s":"Ic 11","x":287,"y":-0.008},{"s":"Ic 11","x":290,"y":0.004},{"s":"Ic 11","x":293,"y":0.015},{"s":"Ic 11","x":296,"y":0.025},{"s":"Ic 11","x":299,"y":0.032},{"s":"Ic 11","x":302,"y":0.036},{"s":"Ic 11","x":305,"y":0.037},{"s":"Ic 11","x":308,"y":0.035},{"s":"Ic 11","x":311,"y":0.032},{"s":"Ic 11","x":314,"y":0.029},{"s":"Ic 11","x":317,"y":0.027},{"s":"Ic 11","x":320,"y":0.026},{"s":"Ic 11","x":323,"y":0.026},{"s":"Ic 11","x":326,"y":0.027},{"s":"Ic 11","x":329,"y":0.028},{"s":"Ic 11","x":332,"y":0.03},{"s":"Ic 11","x":335,"y":0.031},{"s":"Ic 11","x":338,"y":0.032},{"s":"Ic 11","x":341,"y":0.033},{"s":"Ic 11","x":344,"y":0.034},{"s":"Ic 11","x":347,"y":0.034},{"s":"Ic 11","x":350,"y":0.035},
{"s":"Ic 5","x":266,"y":0.06},{"s":"Ic 5","x":269,"y":0.03},{"s":"Ic 5","x":272,"y":0.008},{"s":"Ic 5","x":275,"y":-0.008},{"s":"Ic 5","x":278,"y":-0.018},{"s":"Ic 5","x":281,"y":-0.021},{"s":"Ic 5","x":284,"y":-0.017},{"s":"Ic 5","x":287,"y":-0.008},{"s":"Ic 5","x":290,"y":0.004},{"s":"Ic 5","x":293,"y":0.014},{"s":"Ic 5","x":296,"y":0.024},{"s":"Ic 5","x":299,"y":0.031},{"s":"Ic 5","x":302,"y":0.035},{"s":"Ic 5","x":305,"y":0.036},{"s":"Ic 5","x":308,"y":0.034},{"s":"Ic 5","x":311,"y":0.03},{"s":"Ic 5","x":314,"y":0.027},{"s":"Ic 5","x":317,"y":0.025},{"s":"Ic 5","x":320,"y":0.025},{"s":"Ic 5","x":323,"y":0.025},{"s":"Ic 5","x":326,"y":0.026},{"s":"Ic 5","x":329,"y":0.027},{"s":"Ic 5","x":332,"y":0.028},{"s":"Ic 5","x":335,"y":0.03},{"s":"Ic 5","x":338,"y":0.031},{"s":"Ic 5","x":341,"y":0.032},{"s":"Ic 5","x":344,"y":0.033},{"s":"Ic 5","x":347,"y":0.033},{"s":"Ic 5","x":350,"y":0.033},
{"s":"Ic 9","x":268,"y":0.06},{"s":"Ic 9","x":270,"y":0.038},{"s":"Ic 9","x":272,"y":0.021},{"s":"Ic 9","x":275,"y":0.003},{"s":"Ic 9","x":278,"y":-0.009},{"s":"Ic 9","x":281,"y":-0.014},{"s":"Ic 9","x":284,"y":-0.012},{"s":"Ic 9","x":287,"y":-0.006},{"s":"Ic 9","x":290,"y":0.0},{"s":"Ic 9","x":293,"y":0.006},{"s":"Ic 9","x":296,"y":0.01},{"s":"Ic 9","x":299,"y":0.0125},{"s":"Ic 9","x":302,"y":0.0135},{"s":"Ic 9","x":305,"y":0.014},{"s":"Ic 9","x":308,"y":0.0145},{"s":"Ic 9","x":311,"y":0.015},{"s":"Ic 9","x":314,"y":0.0155},{"s":"Ic 9","x":317,"y":0.016},{"s":"Ic 9","x":320,"y":0.017},{"s":"Ic 9","x":323,"y":0.018},{"s":"Ic 9","x":326,"y":0.0195},{"s":"Ic 9","x":329,"y":0.021},{"s":"Ic 9","x":332,"y":0.023},{"s":"Ic 9","x":335,"y":0.024},{"s":"Ic 9","x":338,"y":0.0235},{"s":"Ic 9","x":341,"y":0.0225},{"s":"Ic 9","x":344,"y":0.021},{"s":"Ic 9","x":347,"y":0.02},{"s":"Ic 9","x":350,"y":0.019},
{"s":"Ic 2","x":268,"y":0.06},{"s":"Ic 2","x":270,"y":0.038},{"s":"Ic 2","x":272,"y":0.021},{"s":"Ic 2","x":275,"y":0.003},{"s":"Ic 2","x":278,"y":-0.009},{"s":"Ic 2","x":281,"y":-0.015},{"s":"Ic 2","x":284,"y":-0.013},{"s":"Ic 2","x":287,"y":-0.006},{"s":"Ic 2","x":290,"y":0.0},{"s":"Ic 2","x":293,"y":0.006},{"s":"Ic 2","x":296,"y":0.01},{"s":"Ic 2","x":299,"y":0.0125},{"s":"Ic 2","x":302,"y":0.0135},{"s":"Ic 2","x":305,"y":0.014},{"s":"Ic 2","x":308,"y":0.0145},{"s":"Ic 2","x":311,"y":0.015},{"s":"Ic 2","x":314,"y":0.0155},{"s":"Ic 2","x":317,"y":0.016},{"s":"Ic 2","x":320,"y":0.017},{"s":"Ic 2","x":323,"y":0.018},{"s":"Ic 2","x":326,"y":0.0195},{"s":"Ic 2","x":329,"y":0.021},{"s":"Ic 2","x":332,"y":0.0225},{"s":"Ic 2","x":335,"y":0.0235},{"s":"Ic 2","x":338,"y":0.023},{"s":"Ic 2","x":341,"y":0.022},{"s":"Ic 2","x":344,"y":0.0205},{"s":"Ic 2","x":347,"y":0.019},{"s":"Ic 2","x":350,"y":0.018},
{"s":"Ic 7","x":268,"y":0.06},{"s":"Ic 7","x":270,"y":0.038},{"s":"Ic 7","x":272,"y":0.021},{"s":"Ic 7","x":275,"y":0.002},{"s":"Ic 7","x":278,"y":-0.01},{"s":"Ic 7","x":281,"y":-0.016},{"s":"Ic 7","x":284,"y":-0.014},{"s":"Ic 7","x":287,"y":-0.007},{"s":"Ic 7","x":290,"y":-0.001},{"s":"Ic 7","x":293,"y":0.005},{"s":"Ic 7","x":296,"y":0.0095},{"s":"Ic 7","x":299,"y":0.012},{"s":"Ic 7","x":302,"y":0.013},{"s":"Ic 7","x":305,"y":0.0135},{"s":"Ic 7","x":308,"y":0.014},{"s":"Ic 7","x":311,"y":0.0145},{"s":"Ic 7","x":314,"y":0.015},{"s":"Ic 7","x":317,"y":0.0155},{"s":"Ic 7","x":320,"y":0.0165},{"s":"Ic 7","x":323,"y":0.0175},{"s":"Ic 7","x":326,"y":0.019},{"s":"Ic 7","x":329,"y":0.02},{"s":"Ic 7","x":332,"y":0.021},{"s":"Ic 7","x":335,"y":0.0215},{"s":"Ic 7","x":338,"y":0.021},{"s":"Ic 7","x":341,"y":0.0205},{"s":"Ic 7","x":344,"y":0.0195},{"s":"Ic 7","x":347,"y":0.018},{"s":"Ic 7","x":350,"y":0.017},
{"s":"Ic 8","x":268,"y":0.06},{"s":"Ic 8","x":270,"y":0.038},{"s":"Ic 8","x":272,"y":0.021},{"s":"Ic 8","x":275,"y":0.003},{"s":"Ic 8","x":278,"y":-0.009},{"s":"Ic 8","x":281,"y":-0.015},{"s":"Ic 8","x":284,"y":-0.012},{"s":"Ic 8","x":287,"y":-0.006},{"s":"Ic 8","x":290,"y":0.0},{"s":"Ic 8","x":293,"y":0.006},{"s":"Ic 8","x":296,"y":0.01},{"s":"Ic 8","x":299,"y":0.012},{"s":"Ic 8","x":302,"y":0.013},{"s":"Ic 8","x":305,"y":0.0135},{"s":"Ic 8","x":308,"y":0.014},{"s":"Ic 8","x":311,"y":0.0145},{"s":"Ic 8","x":314,"y":0.015},{"s":"Ic 8","x":317,"y":0.0155},{"s":"Ic 8","x":320,"y":0.016},{"s":"Ic 8","x":323,"y":0.017},{"s":"Ic 8","x":326,"y":0.0185},{"s":"Ic 8","x":329,"y":0.02},{"s":"Ic 8","x":332,"y":0.021},{"s":"Ic 8","x":335,"y":0.022},{"s":"Ic 8","x":338,"y":0.0215},{"s":"Ic 8","x":341,"y":0.0205},{"s":"Ic 8","x":344,"y":0.019},{"s":"Ic 8","x":347,"y":0.0175},{"s":"Ic 8","x":350,"y":0.016},
{"s":"Ic 12","x":268,"y":0.06},{"s":"Ic 12","x":270,"y":0.038},{"s":"Ic 12","x":272,"y":0.022},{"s":"Ic 12","x":275,"y":0.004},{"s":"Ic 12","x":278,"y":-0.008},{"s":"Ic 12","x":281,"y":-0.013},{"s":"Ic 12","x":284,"y":-0.011},{"s":"Ic 12","x":287,"y":-0.005},{"s":"Ic 12","x":290,"y":0.0005},{"s":"Ic 12","x":293,"y":0.0065},{"s":"Ic 12","x":296,"y":0.01},{"s":"Ic 12","x":299,"y":0.012},{"s":"Ic 12","x":302,"y":0.013},{"s":"Ic 12","x":305,"y":0.0135},{"s":"Ic 12","x":308,"y":0.014},{"s":"Ic 12","x":311,"y":0.0145},{"s":"Ic 12","x":314,"y":0.015},{"s":"Ic 12","x":317,"y":0.0155},{"s":"Ic 12","x":320,"y":0.016},{"s":"Ic 12","x":323,"y":0.0165},{"s":"Ic 12","x":326,"y":0.018},{"s":"Ic 12","x":329,"y":0.019},{"s":"Ic 12","x":332,"y":0.02},{"s":"Ic 12","x":335,"y":0.021},{"s":"Ic 12","x":338,"y":0.0205},{"s":"Ic 12","x":341,"y":0.0195},{"s":"Ic 12","x":344,"y":0.018},{"s":"Ic 12","x":347,"y":0.0165},{"s":"Ic 12","x":350,"y":0.015},
{"s":"Ic 6","x":268,"y":0.06},{"s":"Ic 6","x":270,"y":0.038},{"s":"Ic 6","x":272,"y":0.022},{"s":"Ic 6","x":275,"y":0.004},{"s":"Ic 6","x":278,"y":-0.008},{"s":"Ic 6","x":281,"y":-0.013},{"s":"Ic 6","x":284,"y":-0.011},{"s":"Ic 6","x":287,"y":-0.005},{"s":"Ic 6","x":290,"y":0.0005},{"s":"Ic 6","x":293,"y":0.006},{"s":"Ic 6","x":296,"y":0.0095},{"s":"Ic 6","x":299,"y":0.0115},{"s":"Ic 6","x":302,"y":0.0125},{"s":"Ic 6","x":305,"y":0.013},{"s":"Ic 6","x":308,"y":0.0135},{"s":"Ic 6","x":311,"y":0.014},{"s":"Ic 6","x":314,"y":0.0145},{"s":"Ic 6","x":317,"y":0.015},{"s":"Ic 6","x":320,"y":0.0155},{"s":"Ic 6","x":323,"y":0.016},{"s":"Ic 6","x":326,"y":0.0175},{"s":"Ic 6","x":329,"y":0.0185},{"s":"Ic 6","x":332,"y":0.0195},{"s":"Ic 6","x":335,"y":0.02},{"s":"Ic 6","x":338,"y":0.0195},{"s":"Ic 6","x":341,"y":0.0185},{"s":"Ic 6","x":344,"y":0.017},{"s":"Ic 6","x":347,"y":0.0155},{"s":"Ic 6","x":350,"y":0.014},
{"s":"Ic 10","x":268,"y":0.06},{"s":"Ic 10","x":270,"y":0.038},{"s":"Ic 10","x":272,"y":0.021},{"s":"Ic 10","x":275,"y":0.002},{"s":"Ic 10","x":278,"y":-0.01},{"s":"Ic 10","x":281,"y":-0.016},{"s":"Ic 10","x":284,"y":-0.014},{"s":"Ic 10","x":287,"y":-0.007},{"s":"Ic 10","x":290,"y":-0.0005},{"s":"Ic 10","x":293,"y":0.0055},{"s":"Ic 10","x":296,"y":0.0095},{"s":"Ic 10","x":299,"y":0.0115},{"s":"Ic 10","x":302,"y":0.0125},{"s":"Ic 10","x":305,"y":0.013},{"s":"Ic 10","x":308,"y":0.013},{"s":"Ic 10","x":311,"y":0.0135},{"s":"Ic 10","x":314,"y":0.014},{"s":"Ic 10","x":317,"y":0.0145},{"s":"Ic 10","x":320,"y":0.015},{"s":"Ic 10","x":323,"y":0.0155},{"s":"Ic 10","x":326,"y":0.017},{"s":"Ic 10","x":329,"y":0.018},{"s":"Ic 10","x":332,"y":0.0185},{"s":"Ic 10","x":335,"y":0.019},{"s":"Ic 10","x":338,"y":0.0185},{"s":"Ic 10","x":341,"y":0.0175},{"s":"Ic 10","x":344,"y":0.016},{"s":"Ic 10","x":347,"y":0.0145},{"s":"Ic 10","x":350,"y":0.013}
]
},
"hconcat": [
{
"width": 187, "height": 235,
"title": {"text": "Août 2012 (sec)", "offset": 5},
"resolve": {"scale": {"x": "independent", "y": "independent"}},
"layer": [
 {"data": {"values": [{}]}, "mark": {"type": "rule", "color": "#d0d0d0", "strokeWidth": 1}, "encoding": {"x": {"datum": 200, "scale": {"domain": [175.6, 358], "nice": false, "zero": false}, "axis": null}, "y": {"datum": 0, "scale": {"domain": [-12.89, 10.85], "nice": false, "zero": false}, "axis": null}, "y2": {"datum": 10}}},
 {"data": {"values": [{}]}, "mark": {"type": "rule", "color": "#d0d0d0", "strokeWidth": 1}, "encoding": {"x": {"datum": 200, "scale": {"domain": [175.6, 358], "nice": false, "zero": false}, "axis": null}, "x2": {"datum": 350}, "y": {"datum": 0, "scale": {"domain": [-12.89, 10.85], "nice": false, "zero": false}, "axis": null}}},
 {"data": {"name": "aTop"}, "mark": {"type": "line", "interpolate": "monotone", "strokeWidth": 1.6},
  "encoding": {
   "x": {"field": "x", "type": "quantitative", "scale": {"domain": [175.6, 358], "nice": false, "zero": false}, "axis": {"orient": "bottom", "offset": -127.6, "values": [200, 250, 300, 350], "title": null, "labelFlush": false, "labelOverlap": false}},
   "y": {"field": "y", "type": "quantitative", "scale": {"domain": [-12.89, 10.85], "nice": false, "zero": false}, "axis": {"orient": "left", "offset": -25, "values": [0, 2, 4, 6, 8, 10], "title": "Absorbance (u.a.)", "titleFont": "Roboto Condensed, Roboto", "titleFontSize": 12, "titleFontWeight": 300, "titleColor": "#444444", "titlePadding": 22}},
   "color": {"field": "s", "type": "nominal", "scale": {"domain": ["Ic 1","Ic 2","Ic 3","Ic 4","Ic 5","Ic 6","Ic 7","Ic 8","Ic 9","Ic 10","Ic 11","Ic 12"], "range": ["#4a7ebb","#b95a50","#7bb25a","#8063a8","#3fa3c4","#eb9a5c","#3d8edb","#d8665a","#9dcf62","#7476d0","#52c2e4","#f7ae6e"]}, "legend": {"title": null}}
  }},
 {"data": {"values": [{}]}, "mark": {"type": "text", "fontSize": 7, "fontWeight": "bold", "color": "#333333", "lineHeight": 9, "align": "center", "baseline": "middle"}, "encoding": {"x": {"datum": 314, "scale": {"domain": [175.6, 358], "nice": false, "zero": false}, "axis": null}, "y": {"datum": 8.5, "scale": {"domain": [-12.89, 10.85], "nice": false, "zero": false}, "axis": null}, "text": {"value": ["Spectres  UV", "bruts"]}}},
 {"data": {"values": [{}]}, "mark": {"type": "rule", "color": "#d0d0d0", "strokeWidth": 1}, "encoding": {"x": {"datum": 260, "scale": {"domain": [245.5, 354.1], "nice": false, "zero": false}, "axis": null}, "y": {"datum": -0.03, "scale": {"domain": [-0.0387, 0.1698], "nice": false, "zero": false}, "axis": null}, "y2": {"datum": 0.06}}},
 {"data": {"values": [{}]}, "mark": {"type": "rule", "color": "#d0d0d0", "strokeWidth": 1}, "encoding": {"x": {"datum": 260, "scale": {"domain": [245.5, 354.1], "nice": false, "zero": false}, "axis": null}, "x2": {"datum": 350}, "y": {"datum": 0, "scale": {"domain": [-0.0387, 0.1698], "nice": false, "zero": false}, "axis": null}}},
 {"data": {"name": "aBot"}, "mark": {"type": "line", "interpolate": "monotone", "strokeWidth": 1.6},
  "encoding": {
   "x": {"field": "x", "type": "quantitative", "scale": {"domain": [245.5, 354.1], "nice": false, "zero": false}, "axis": {"orient": "bottom", "offset": -43.6, "values": [260, 280, 300, 320, 340], "title": null, "labelFlush": false, "labelOverlap": false}},
   "y": {"field": "y", "type": "quantitative", "scale": {"domain": [-0.0387, 0.1698], "nice": false, "zero": false}, "axis": {"orient": "left", "offset": -25, "values": [-0.03, -0.02, -0.01, 0, 0.01, 0.02, 0.03, 0.04, 0.05, 0.06], "title": null, "labelExpr": "datum.value == 0 ? '0' : (datum.value < 0 ? '-' : '') + format(abs(datum.value), '.2f')"}},
   "color": {"field": "s", "type": "nominal", "scale": {"domain": ["Ic 1","Ic 2","Ic 3","Ic 4","Ic 5","Ic 6","Ic 7","Ic 8","Ic 9","Ic 10","Ic 11","Ic 12"], "range": ["#4a7ebb","#b95a50","#7bb25a","#8063a8","#3fa3c4","#eb9a5c","#3d8edb","#d8665a","#9dcf62","#7476d0","#52c2e4","#f7ae6e"]}, "legend": {"title": null}}
  }},
 {"data": {"values": [{}]}, "mark": {"type": "text", "fontSize": 7, "fontWeight": "bold", "color": "#333333", "lineHeight": 9, "align": "center", "baseline": "middle"}, "encoding": {"x": {"datum": 283.8, "scale": {"domain": [245.5, 354.1], "nice": false, "zero": false}, "axis": null}, "y": {"datum": 0.0463, "scale": {"domain": [-0.0387, 0.1698], "nice": false, "zero": false}, "axis": null}, "text": {"value": ["Dérivées", "secondes  SUV"]}}}
]
},
{
"width": 178, "height": 235,
"title": {"text": "Octobre 2012 (pluie)", "offset": 5},
"resolve": {"scale": {"x": "independent", "y": "independent"}},
"layer": [
 {"data": {"values": [{}]}, "mark": {"type": "rule", "color": "#d0d0d0", "strokeWidth": 1}, "encoding": {"x": {"datum": 200, "scale": {"domain": [192, 361.7], "nice": false, "zero": false}, "axis": null}, "y": {"datum": 0, "scale": {"domain": [-12.89, 10.85], "nice": false, "zero": false}, "axis": null}, "y2": {"datum": 10}}},
 {"data": {"values": [{}]}, "mark": {"type": "rule", "color": "#d0d0d0", "strokeWidth": 1}, "encoding": {"x": {"datum": 200, "scale": {"domain": [192, 361.7], "nice": false, "zero": false}, "axis": null}, "x2": {"datum": 350}, "y": {"datum": 0, "scale": {"domain": [-12.89, 10.85], "nice": false, "zero": false}, "axis": null}}},
 {"data": {"name": "oTop"}, "mark": {"type": "line", "interpolate": "monotone", "strokeWidth": 1.6},
  "encoding": {
   "x": {"field": "x", "type": "quantitative", "scale": {"domain": [192, 361.7], "nice": false, "zero": false}, "axis": {"orient": "bottom", "offset": -127.6, "values": [200, 250, 300, 350], "title": null, "labelFlush": false, "labelOverlap": false}},
   "y": {"field": "y", "type": "quantitative", "scale": {"domain": [-12.89, 10.85], "nice": false, "zero": false}, "axis": {"orient": "left", "offset": -8.4, "values": [0, 2, 4, 6, 8, 10], "title": null, "labels": false}},
   "color": {"field": "s", "type": "nominal", "scale": {"domain": ["Ic 1","Ic 2","Ic 3","Ic 4","Ic 5","Ic 6","Ic 7","Ic 8","Ic 9","Ic 10","Ic 11","Ic 12"], "range": ["#4a7ebb","#b95a50","#7bb25a","#8063a8","#3fa3c4","#eb9a5c","#3d8edb","#d8665a","#9dcf62","#7476d0","#52c2e4","#f7ae6e"]}, "legend": {"title": null}}
  }},
 {"data": {"values": [{}]}, "mark": {"type": "text", "fontSize": 7, "fontWeight": "bold", "color": "#333333", "lineHeight": 9, "align": "center", "baseline": "middle"}, "encoding": {"x": {"datum": 318.5, "scale": {"domain": [192, 361.7], "nice": false, "zero": false}, "axis": null}, "y": {"datum": 8.5, "scale": {"domain": [-12.89, 10.85], "nice": false, "zero": false}, "axis": null}, "text": {"value": ["Spectres  UV", "bruts"]}}},
 {"data": {"values": [{}]}, "mark": {"type": "rule", "color": "#d0d0d0", "strokeWidth": 1}, "encoding": {"x": {"datum": 260, "scale": {"domain": [255.2, 356.9], "nice": false, "zero": false}, "axis": null}, "y": {"datum": -0.03, "scale": {"domain": [-0.0387, 0.1698], "nice": false, "zero": false}, "axis": null}, "y2": {"datum": 0.06}}},
 {"data": {"values": [{}]}, "mark": {"type": "rule", "color": "#d0d0d0", "strokeWidth": 1}, "encoding": {"x": {"datum": 260, "scale": {"domain": [255.2, 356.9], "nice": false, "zero": false}, "axis": null}, "x2": {"datum": 350}, "y": {"datum": 0, "scale": {"domain": [-0.0387, 0.1698], "nice": false, "zero": false}, "axis": null}}},
 {"data": {"name": "oBot"}, "mark": {"type": "line", "interpolate": "monotone", "strokeWidth": 1.6},
  "encoding": {
   "x": {"field": "x", "type": "quantitative", "scale": {"domain": [255.2, 356.9], "nice": false, "zero": false}, "axis": {"orient": "bottom", "offset": -43.6, "values": [260, 280, 300, 320, 340], "title": null, "labelFlush": false, "labelOverlap": false}},
   "y": {"field": "y", "type": "quantitative", "scale": {"domain": [-0.0387, 0.1698], "nice": false, "zero": false}, "axis": {"orient": "left", "offset": -8.4, "values": [-0.03, -0.02, -0.01, 0, 0.01, 0.02, 0.03, 0.04, 0.05, 0.06], "title": null, "labels": false}},
   "color": {"field": "s", "type": "nominal", "scale": {"domain": ["Ic 1","Ic 2","Ic 3","Ic 4","Ic 5","Ic 6","Ic 7","Ic 8","Ic 9","Ic 10","Ic 11","Ic 12"], "range": ["#4a7ebb","#b95a50","#7bb25a","#8063a8","#3fa3c4","#eb9a5c","#3d8edb","#d8665a","#9dcf62","#7476d0","#52c2e4","#f7ae6e"]}, "legend": {"title": null}}
  }},
 {"data": {"values": [{}]}, "mark": {"type": "text", "fontSize": 7, "fontWeight": "bold", "color": "#333333", "lineHeight": 9, "align": "center", "baseline": "middle"}, "encoding": {"x": {"datum": 284.5, "scale": {"domain": [255.2, 356.9], "nice": false, "zero": false}, "axis": null}, "y": {"datum": 0.0465, "scale": {"domain": [-0.0387, 0.1698], "nice": false, "zero": false}, "axis": null}, "text": {"value": ["Dérivées", "secondes  SUV"]}}}
]
}
],
"spacing": 4,
"bounds": "flush",
"config": {
 "view": {"fill": "white", "stroke": "#3b78c3", "strokeWidth": 2},
 "font": "Liberation Sans",
 "axis": {"domain": false, "grid": false, "ticks": true, "tickColor": "#c4c4c4", "tickSize": 3, "labelFont": "Liberation Sans", "labelFontSize": 6, "labelFontWeight": "bold", "labelColor": "#5a5a5a", "labelPadding": 2},
 "legend": {"orient": "right", "offset": 1, "fillColor": "white", "padding": 7, "symbolType": "stroke", "symbolSize": 169, "symbolStrokeWidth": 2, "labelFont": "Liberation Sans", "labelFontSize": 6.5, "labelFontWeight": "bold", "labelColor": "#555555", "rowPadding": 7.3, "labelOffset": 1},
 "title": {"font": "Roboto Condensed, Roboto", "fontSize": 12.5, "fontWeight": 300, "color": "#3a3a3a"}
}
}
